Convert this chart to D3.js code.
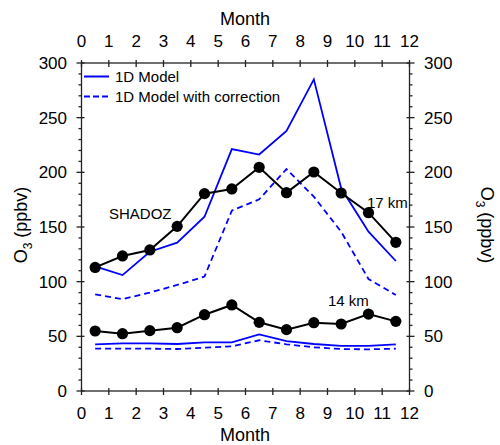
<!DOCTYPE html>
<html><head><meta charset="utf-8">
<script src="https://cdn.jsdelivr.net/npm/d3@7"></script>
<style>body{margin:0;background:#fff}svg{display:block}text{font-family:"Liberation Sans",Arial,sans-serif;fill:#000}</style>
</head><body><svg id="c" width="500" height="445"></svg>
<script>
const months = [0.5,1.5,2.5,3.5,4.5,5.5,6.5,7.5,8.5,9.5,10.5,11.5];
const shadoz17 = [113,123.5,129,150.6,180.5,184.8,204.6,181.4,200.3,181.1,163.1,136];
const model17 = [114,106,127.4,135.7,159.4,221.3,216.3,237.8,285,185.4,145.7,118.9];
const modelCorr17 = [88.4,84,90,97,104.6,165,175.3,203,177.7,145.7,102.4,87.8];
const shadoz14 = [54.9,52.4,55.2,57.9,69.8,78.7,62.8,56.1,62.5,61.3,70.4,63.7];
const model14 = [42.7,43.6,43.6,43,44.5,44.5,51.8,45.7,43,41.2,41.2,42.7];
const modelCorr14 = [38.7,38.7,38.7,38.4,39.6,40.8,46.4,42.7,40,38.4,38.1,38.7];
const xTicks = [0,1,2,3,4,5,6,7,8,9,10,11,12];
const yTicks = [0,50,100,150,200,250,300];
const legendLabels = ["1D Model","1D Model with correction"];

const svg = d3.select("#c");
const x = d3.scaleLinear().domain([0,12]).range([81.5,409.5]);
const y = d3.scaleLinear().domain([0,300]).range([391,63]);
const fs = 17;
const axisColor = "#222";

const g = svg.append("g");
g.append("rect").attr("x",x(0)).attr("y",y(300)).attr("width",x(12)-x(0)).attr("height",y(0)-y(300))
  .attr("fill","none").attr("stroke",axisColor).attr("stroke-width",1.3);

xTicks.forEach(t=>{
  g.append("line").attr("x1",x(t)).attr("x2",x(t)).attr("y1",y(0)-3).attr("y2",y(0)+4).attr("stroke",axisColor).attr("stroke-width",1.3);
  g.append("line").attr("x1",x(t)).attr("x2",x(t)).attr("y1",y(300)-3).attr("y2",y(300)+4).attr("stroke",axisColor).attr("stroke-width",1.3);
  g.append("text").attr("x",x(t)).attr("y",419).attr("text-anchor","middle").attr("font-size",fs).text(t);
  g.append("text").attr("x",x(t)).attr("y",47).attr("text-anchor","middle").attr("font-size",fs).text(t);
});
const minor = d3.range(0,301,10).filter(v=>v%50!==0);
yTicks.forEach(t=>{
  g.append("line").attr("x1",x(0)-5).attr("x2",x(0)+3).attr("y1",y(t)).attr("y2",y(t)).attr("stroke",axisColor).attr("stroke-width",1.3);
  g.append("line").attr("x1",x(12)-3).attr("x2",x(12)+5).attr("y1",y(t)).attr("y2",y(t)).attr("stroke",axisColor).attr("stroke-width",1.3);
  g.append("text").attr("x",67).attr("y",y(t)).attr("dy","0.36em").attr("text-anchor","end").attr("font-size",fs).text(t);
  g.append("text").attr("x",424).attr("y",y(t)).attr("dy","0.36em").attr("text-anchor","start").attr("font-size",fs).text(t);
});
minor.forEach(t=>{
  g.append("line").attr("x1",x(0)-3).attr("x2",x(0)).attr("y1",y(t)).attr("y2",y(t)).attr("stroke",axisColor).attr("stroke-width",1.3);
  g.append("line").attr("x1",x(12)).attr("x2",x(12)+3).attr("y1",y(t)).attr("y2",y(t)).attr("stroke",axisColor).attr("stroke-width",1.3);
});

svg.append("text").attr("x",245).attr("y",25).attr("text-anchor","middle").attr("font-size",fs+1).text("Month");
svg.append("text").attr("x",245).attr("y",441).attr("text-anchor","middle").attr("font-size",fs+1).text("Month");
function o3(tx,ty,rot){
  const t = svg.append("text").attr("transform",`translate(${tx},${ty}) rotate(${rot})`).attr("text-anchor","middle").attr("font-size",fs+1);
  t.append("tspan").text("O");
  t.append("tspan").attr("font-size",12).attr("dy",5).text("3");
  t.append("tspan").attr("dy",-5).text(" (ppbv)");
}
o3(27,225,-90);
o3(481,225,90);

const line = d3.line().x((d,i)=>x(months[i])).y(d=>y(d));
const blue = "#0000ff";
[[model17,null],[modelCorr17,"6,4"],[model14,null],[modelCorr14,"6,4"]].forEach(([arr,dash])=>{
  svg.append("path").attr("d",line(arr)).attr("fill","none").attr("stroke",blue).attr("stroke-width",1.8)
    .attr("stroke-dasharray",dash);
});
[shadoz17,shadoz14].forEach(arr=>{
  svg.append("path").attr("d",line(arr)).attr("fill","none").attr("stroke","#000").attr("stroke-width",2);
  svg.selectAll(null).data(arr).enter().append("circle")
    .attr("cx",(d,i)=>x(months[i])).attr("cy",d=>y(d)).attr("r",5.6).attr("fill","#000");
});

svg.append("text").attr("x",109).attr("y",219).attr("font-size",15).text("SHADOZ");
svg.append("text").attr("x",367).attr("y",208).attr("font-size",15).text("17 km");
svg.append("text").attr("x",328).attr("y",306).attr("font-size",15).text("14 km");

legendLabels.forEach((lab,i)=>{
  const ly = 76.5 + i*20;
  svg.append("line").attr("x1",84).attr("x2",109).attr("y1",ly).attr("y2",ly).attr("stroke",blue).attr("stroke-width",2)
    .attr("stroke-dasharray",i===1?"6,3":null);
  svg.append("text").attr("x",115).attr("y",ly+5.5).attr("font-size",15).text(lab);
});
</script></body></html>
